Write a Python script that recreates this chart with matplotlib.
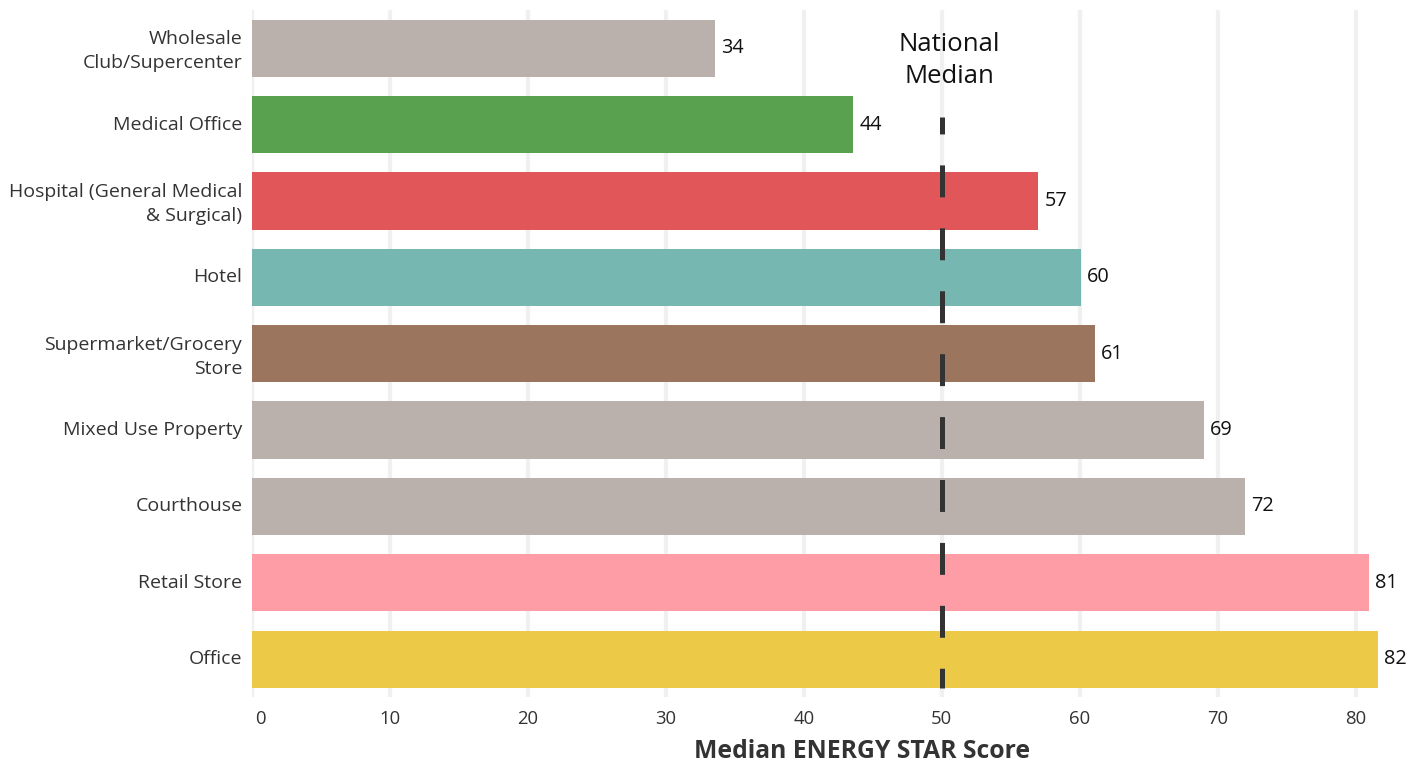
import matplotlib
matplotlib.use("Agg")
import matplotlib.pyplot as plt
from matplotlib import transforms

plt.rcParams["font.family"] = ["Open Sans", "DejaVu Sans"]
plt.rcParams["lines.scale_dashes"] = False

# Median ENERGY STAR score by property type
categories = [
    "Wholesale\nClub/Supercenter",
    "Medical Office",
    "Hospital (General Medical\n& Surgical)",
    "Hotel",
    "Supermarket/Grocery\nStore",
    "Mixed Use Property",
    "Courthouse",
    "Retail Store",
    "Office",
]
scores = [33.6, 43.6, 57.0, 60.1, 61.1, 69.0, 72.0, 81.0, 81.6]
bar_colors = ["#BAB0AC", "#59A14F", "#E15759", "#76B7B2", "#9C755F",
              "#BAB0AC", "#BAB0AC", "#FF9DA7", "#EDC948"]
national_median = 50
x_ticks = [0, 10, 20, 30, 40, 50, 60, 70, 80]

fig = plt.figure(figsize=(14.23, 7.67), dpi=100)
ax = fig.add_axes([252 / 1423, 69.6 / 767, 1138 / 1423, 687.4 / 767])

ypos = list(range(len(categories)))
ax.barh(ypos, scores, height=0.75, color=bar_colors, zorder=2)

for y, v in zip(ypos, scores):
    ax.annotate(f"{v:.0f}", xy=(v, y), xytext=(6, 0), textcoords="offset pixels",
                ha="left", va="center", fontsize=14.3, color="#111111", zorder=4)

# dashed reference line at the national median
ax.plot([national_median, national_median], [0.9, 8.375],
        color="#333333", lw=3.6, linestyle=(10.8, (23.0, 22.3)),
        dash_capstyle="butt", zorder=3)
ax.text(national_median + 0.55, 0.16, "National\nMedian", ha="center", va="center",
        fontsize=18.5, color="#111111", linespacing=1.38, zorder=4)

ax.set_xlim(0, 82.5)
ax.set_ylim(8.5, -0.5)
ax.set_yticks(ypos)
ax.set_yticklabels(categories, fontsize=14, color="#333333", linespacing=1.45)
ax.set_xticks(x_ticks)
ax.set_xticklabels([str(t) for t in x_ticks], fontsize=13.3, color="#333333")
ax.tick_params(axis="both", length=0)
ax.tick_params(axis="y", pad=7)
ax.tick_params(axis="x", pad=9)

# raise the category labels slightly
lift = transforms.ScaledTranslation(0, 2 / 100, fig.dpi_scale_trans)
for lbl in ax.get_yticklabels():
    lbl.set_transform(lbl.get_transform() + lift)

# nudge the first x tick label off the left edge
first = ax.get_xticklabels()[0]
first.set_transform(first.get_transform() + transforms.ScaledTranslation(8 / 100, 0, fig.dpi_scale_trans))

ax.grid(axis="x", color="#F0F0F0", lw=3, zorder=0)
ax.set_axisbelow(True)
for s in ax.spines.values():
    s.set_visible(False)

ax.set_xlabel("Median ENERGY STAR Score", fontsize=17.8, fontweight="bold",
              color="#333333", labelpad=8)
ax.xaxis.label.set_x((862 - 252) / 1138)

fig.savefig("out.png", dpi=100, facecolor="white")
